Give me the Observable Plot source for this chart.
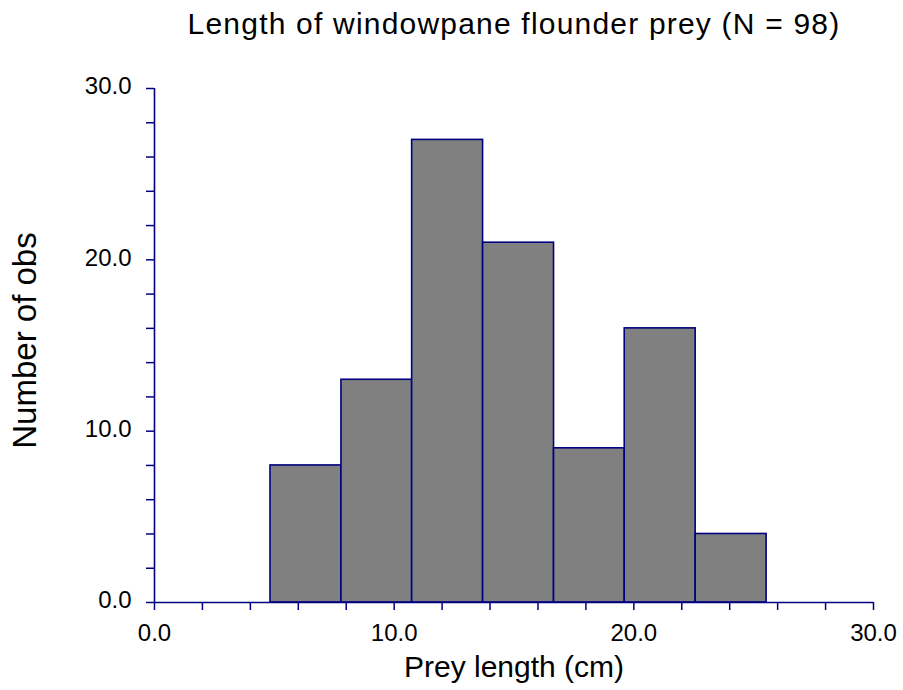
<!DOCTYPE html>
<html>
<head>
<meta charset="utf-8">
<script src="https://cdn.jsdelivr.net/npm/d3@7"></script>
<script src="https://cdn.jsdelivr.net/npm/@observablehq/plot@0.6"></script>
<style>
  html, body { margin: 0; padding: 0; background: #fff; }
  svg { font-family: "Liberation Sans", Arial, sans-serif; }
</style>
</head>
<body>
<div id="chart"></div>
<script>
// Data
const binStart = [4.84, 7.80, 10.75, 13.71, 16.67, 19.62, 22.58];
const binEnd   = [7.80, 10.75, 13.71, 16.67, 19.62, 22.58, 25.54];
const counts   = [8, 13, 27, 21, 9, 16, 4];
const majorTicks = [0, 10, 20, 30];
const minorTicks = d3.range(0, 31, 2);
const titleText = "Length of windowpane flounder prey (N = 98)";
const xLabel = "Prey length (cm)";
const yLabel = "Number of obs";

const bins = binStart.map((s, i) => ({x1: s, x2: binEnd[i], count: counts[i]}));
const navy = "#000080";

const chart = Plot.plot({
  width: 903,
  height: 690,
  marginLeft: 154,
  marginRight: 30,
  marginTop: 88,
  marginBottom: 88,
  style: {fontFamily: '"Liberation Sans", Arial, sans-serif', color: "#000", background: "#fff"},
  x: {domain: [0, 30], label: null},
  y: {domain: [0, 30], label: null},
  marks: [
    Plot.rectY(bins, {x1: "x1", x2: "x2", y: "count", fill: "#808080", stroke: navy, strokeWidth: 1.6}),
    Plot.axisY({ticks: minorTicks, tickSize: 8, tickFormat: () => "", label: null, stroke: navy, strokeWidth: 1.5, strokeOpacity: 1}),
    Plot.axisY({ticks: majorTicks, tickSize: 0, tickPadding: 23, tickFormat: d => d.toFixed(1), label: null, fontSize: 24, fill: "#000", dy: -2}),
    Plot.axisX({ticks: minorTicks, tickSize: 8, tickFormat: () => "", label: null, stroke: navy, strokeWidth: 1.5, strokeOpacity: 1}),
    Plot.axisX({ticks: majorTicks, tickSize: 0, tickPadding: 21, tickFormat: d => d.toFixed(1), label: null, fontSize: 24, fill: "#000"}),
    Plot.ruleY([0], {x1: 0, x2: 30, stroke: navy, strokeWidth: 1.6}),
    Plot.ruleX([0], {y1: 0, y2: 30, stroke: navy, strokeWidth: 1.6}),
    Plot.text([titleText], {text: d => d, frameAnchor: "top", dy: -64.6, fontSize: 30, fill: "#000", lineAnchor: "middle", textAnchor: "middle"}),
    Plot.text([xLabel], {text: d => d, frameAnchor: "bottom", dy: 65, fontSize: 30, fill: "#000", lineAnchor: "middle", textAnchor: "middle"}),
    Plot.text([yLabel], {text: d => d, frameAnchor: "left", dx: -129.5, dy: -5, rotate: -90, fontSize: 33, fill: "#000", lineAnchor: "middle", textAnchor: "middle"})
  ]
});
chart.querySelectorAll("text").forEach(t => {
  if (t.textContent === titleText) t.setAttribute("letter-spacing", "1.2");
});
document.getElementById("chart").appendChild(chart);
</script>
</body>
</html>
